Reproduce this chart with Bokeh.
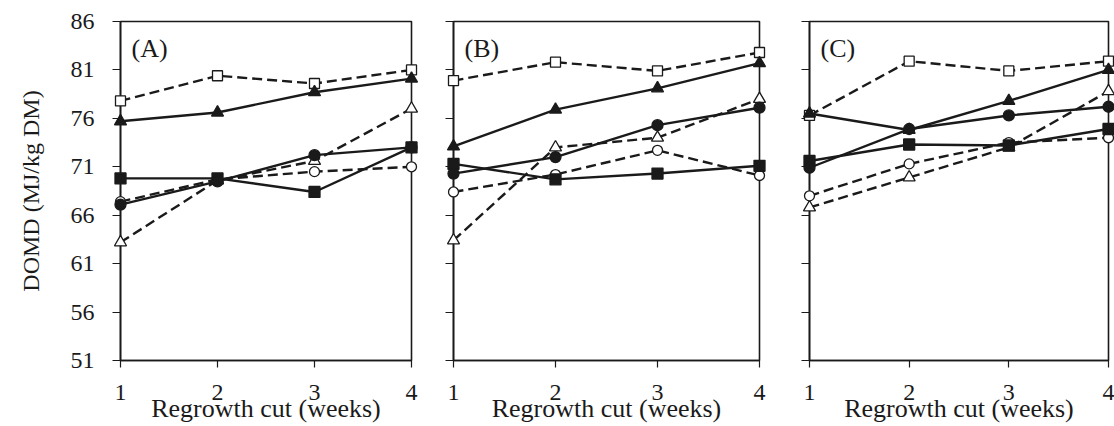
from bokeh.plotting import figure
from bokeh.layouts import row
from bokeh.models import Range1d, FixedTicker, Label, CustomJSTickFormatter
from bokeh.embed import file_html
from bokeh.resources import INLINE

weeks = [1, 2, 3, 4]
y_ticks = [51, 56, 61, 66, 71, 76, 81, 86]
panel_names = ["(A)", "(B)", "(C)"]

# Panel A
a_filled_square = [69.8, 69.8, 68.4, 73.0]
a_filled_circle = [67.1, 69.5, 72.2, 73.0]
a_filled_triangle = [75.7, 76.6, 78.7, 80.1]
a_open_square = [77.8, 80.4, 79.6, 81.0]
a_open_circle = [67.4, 69.7, 70.5, 71.0]
a_open_triangle = [63.2, 69.6, 71.6, 77.0]

# Panel B
b_filled_square = [71.3, 69.7, 70.3, 71.1]
b_filled_circle = [70.3, 72.0, 75.3, 77.1]
b_filled_triangle = [73.1, 76.9, 79.1, 81.7]
b_open_square = [79.9, 81.8, 80.9, 82.8]
b_open_circle = [68.4, 70.2, 72.7, 70.1]
b_open_triangle = [63.4, 73.0, 74.0, 78.0]

# Panel C
c_filled_square = [71.6, 73.3, 73.2, 74.9]
c_filled_circle = [70.9, 74.9, 76.3, 77.2]
c_filled_triangle = [76.5, 74.8, 77.8, 81.0]
c_open_square = [76.3, 81.9, 80.9, 81.9]
c_open_circle = [68.0, 71.3, 73.5, 74.0]
c_open_triangle = [66.8, 69.9, 73.0, 78.8]

panels = [
    {"filled_square": a_filled_square, "filled_circle": a_filled_circle,
     "filled_triangle": a_filled_triangle, "open_square": a_open_square,
     "open_circle": a_open_circle, "open_triangle": a_open_triangle},
    {"filled_square": b_filled_square, "filled_circle": b_filled_circle,
     "filled_triangle": b_filled_triangle, "open_square": b_open_square,
     "open_circle": b_open_circle, "open_triangle": b_open_triangle},
    {"filled_square": c_filled_square, "filled_circle": c_filled_circle,
     "filled_triangle": c_filled_triangle, "open_square": c_open_square,
     "open_circle": c_open_circle, "open_triangle": c_open_triangle},
]

INK = "#1a1a1a"
FONT = "Liberation Serif"

styles = {
    "open_square": ("square", "white", "10 5", 10),
    "open_circle": ("circle", "white", "10 5", 10),
    "open_triangle": ("triangle", "white", "10 5", 12),
    "filled_square": ("square", INK, "solid", 11),
    "filled_circle": ("circle", INK, "solid", 11),
    "filled_triangle": ("triangle", INK, "solid", 12),
}
draw_order = ["open_triangle", "open_circle", "open_square",
              "filled_square", "filled_circle", "filled_triangle"]

# widths / borders (left, right) per panel
geom = [(432, 120, 21), (352, 21, 25), (330, 25, 6)]

figs = []
for i, data in enumerate(panels):
    w, bl, br = geom[i]
    p = figure(width=w, height=426, x_range=Range1d(1, 4), y_range=Range1d(51, 86),
               output_backend="svg", toolbar_location=None,
               min_border_left=bl, min_border_right=br,
               min_border_top=21, min_border_bottom=66)
    p.xgrid.visible = False
    p.ygrid.visible = False
    p.outline_line_color = INK
    p.outline_line_width = 1.6
    p.background_fill_color = "white"
    p.border_fill_color = "white"

    p.xaxis.ticker = FixedTicker(ticks=weeks)
    p.yaxis.ticker = FixedTicker(ticks=y_ticks)
    for ax in (p.xaxis[0], p.yaxis[0]):
        ax.axis_line_color = INK
        ax.axis_line_width = 1.6
        ax.major_tick_line_color = INK
        ax.major_tick_line_width = 1.2
        ax.major_tick_in = 0
        ax.minor_tick_line_color = None
        ax.major_label_text_font = FONT
        ax.major_label_text_color = INK
        ax.axis_label_text_font = FONT
        ax.axis_label_text_font_style = "normal"
        ax.axis_label_text_color = INK
    p.xaxis.major_tick_out = 7
    p.yaxis.major_tick_out = 8
    p.xaxis.major_label_text_font_size = "24px"
    p.xaxis.major_label_standoff = 17
    p.xaxis.axis_label = "Regrowth cut (weeks)"
    p.xaxis.axis_label_text_font_size = "26px"
    p.xaxis.axis_label_standoff = -9
    if i == 0:
        p.yaxis.major_label_text_font_size = "24px"
        p.yaxis.major_label_standoff = 18
        p.yaxis.axis_label = "DOMD (MJ/kg DM)"
        p.yaxis.axis_label_text_font_size = "24px"
        p.yaxis.axis_label_standoff = 24
    else:
        p.yaxis.formatter = CustomJSTickFormatter(code="return ''")
        p.yaxis.major_label_standoff = 0

    for key in draw_order:
        marker, fill, dash, size = styles[key]
        vals = data[key]
        p.line(weeks, vals, line_color=INK, line_width=2.4, line_dash=dash, level="overlay")
        p.scatter(weeks, vals, marker=marker, size=size, fill_color=fill,
                  line_color=INK, line_width=1.3, level="overlay")

    p.add_layout(Label(x=1, y=86, x_offset=11, y_offset=-27, text=panel_names[i],
                       text_font=FONT, text_font_size="26px", text_color=INK,
                       text_baseline="middle", text_align="left"))
    figs.append(p)

layout = row(*figs, spacing=0)
open("out.html", "w").write(file_html(layout, INLINE))
